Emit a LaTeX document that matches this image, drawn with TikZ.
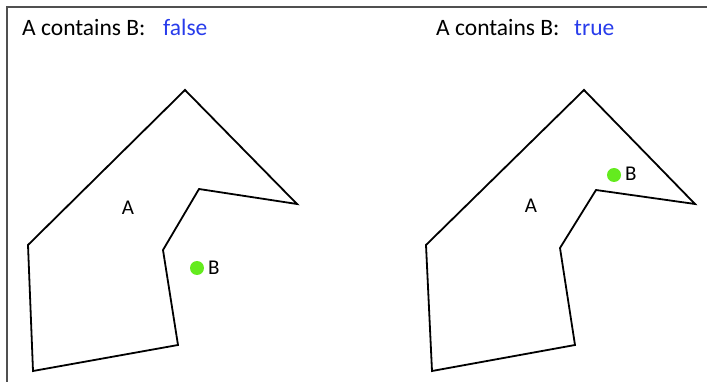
\documentclass[tikz,border=0pt]{standalone}
\usepackage{fontspec}
\setmainfont{Carlito}
\definecolor{valblue}{RGB}{40,60,235}
\definecolor{ptgreen}{RGB}{100,235,30}
\definecolor{framegray}{RGB}{80,80,80}
\begin{document}
\begin{tikzpicture}[x=1pt,y=-1pt,
  head/.style={font=\fontsize{23.5}{27}\selectfont, inner sep=0pt, anchor=base west},
  val/.style={head, text=valblue},
  lbl/.style={font=\fontsize{21}{25}\selectfont, inner sep=0pt},
  poly/.style={draw=black, line width=1.8pt, line join=miter},
  pt/.style={circle, fill=ptgreen, minimum size=14pt, inner sep=0pt}]
\useasboundingbox (0,0) rectangle (707,382);
\draw[framegray, line width=2pt] (7,382) -- (7,7) -- (707,7);
% left
\node[head] (h1) at (22,36) {A contains B:};
\node[val] (v1) at (163,36) {false};
\draw[poly] (185,90) -- (297,204) -- (199,189) -- (163,250) -- (178,345) -- (33,371) -- (28,245) -- cycle;
\node[lbl] (a1) at (128,208) {A};
\node[pt] (b1) at (197,268) {};
\node[lbl, anchor=west] (bl1) at (208,268) {B};
% right
\node[head] (h2) at (436,36) {A contains B:};
\node[val] (v2) at (574,36) {true};
\draw[poly] (584,90) -- (695,204) -- (596,190) -- (560,248) -- (575,345) -- (432,371) -- (426,245) -- cycle;
\node[lbl] (a2) at (531,206) {A};
\node[pt] (b2) at (614,175) {};
\node[lbl, anchor=west] (bl2) at (625,174) {B};
\end{tikzpicture}
\end{document}
